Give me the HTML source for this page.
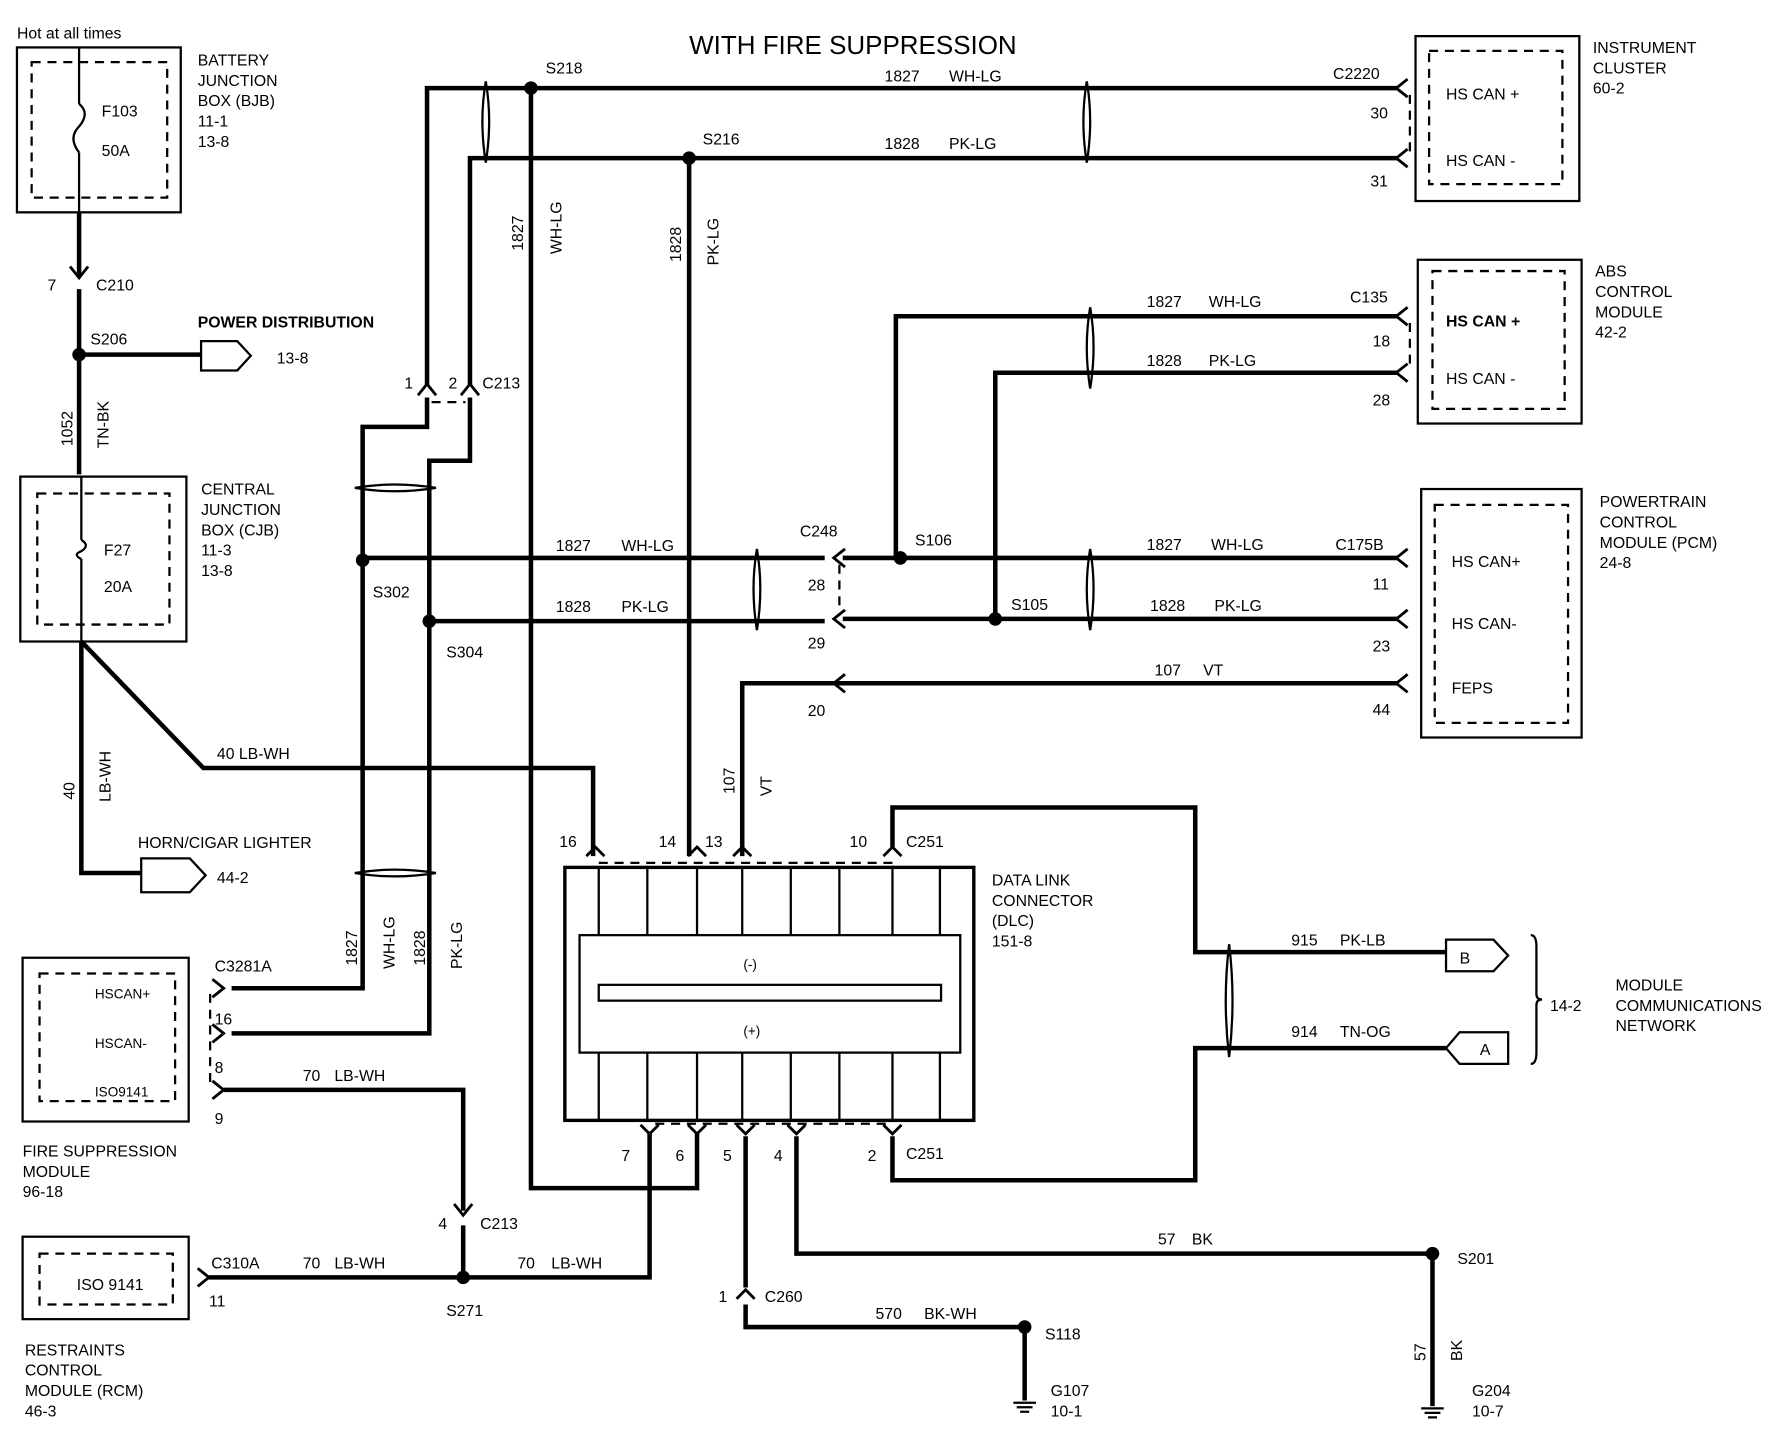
<!DOCTYPE html>
<html><head><meta charset="utf-8"><style>
html,body{margin:0;padding:0;background:#fff}
svg{display:block}
text{font-family:"Liberation Sans Narrow","Liberation Sans",sans-serif;font-size:14px;fill:#000}
.w{stroke:#000;stroke-width:4;fill:none}
.t{stroke:#000;stroke-width:2;fill:none}
.d{stroke:#000;stroke-width:2;fill:none;stroke-dasharray:8 6}
.a{stroke:#000;stroke-width:2.5;fill:none}
</style></head><body>
<svg width="1768" height="1440" viewBox="0 0 1565 1275" preserveAspectRatio="none" xmlns="http://www.w3.org/2000/svg">
<text x="610" y="48" style="font-size:23px">WITH FIRE SUPPRESSION</text>
<text x="15" y="34">Hot at all times</text>

<!-- BJB -->
<rect x="15" y="42" width="145" height="146" class="t"/>
<rect x="28" y="55" width="120" height="120" class="d"/>
<path class="t" d="M70 42V92 M70 135V188"/>
<path class="t" d="M70 92 q10 8 0 20 q-10 10 0 23"/>
<text x="90" y="103">F103</text><text x="90" y="138">50A</text>
<text x="175" y="58">BATTERY</text><text x="175" y="76">JUNCTION</text><text x="175" y="94">BOX (BJB)</text><text x="175" y="112">11-1</text><text x="175" y="130">13-8</text>
<path class="w" d="M70 188V244 M70 256V420"/>
<path class="a" d="M62 236L70 246L78 236"/>
<text x="42" y="257">7</text><text x="85" y="257">C210</text>
<circle cx="70" cy="314" r="6"/>
<path class="w" d="M70 314H178"/>
<path class="t" d="M178 302H210L222 315L210 328H178Z"/>
<text x="245" y="322">13-8</text>
<text x="175" y="290" style="font-weight:bold">POWER DISTRIBUTION</text>
<text x="80" y="305">S206</text>
<text transform="translate(64,395) rotate(-90)">1052</text>
<text transform="translate(96,397) rotate(-90)">TN-BK</text>

<!-- CJB -->
<rect x="18" y="422" width="147" height="146" class="t"/>
<rect x="33" y="437" width="117" height="116" class="d"/>
<path class="t" d="M72 422V478 M72 495V568"/>
<path class="t" d="M72 478 q8 5 0 10 q-8 3 0 7"/>
<text x="92" y="492">F27</text><text x="92" y="524">20A</text>
<text x="178" y="438">CENTRAL</text><text x="178" y="456">JUNCTION</text><text x="178" y="474">BOX (CJB)</text><text x="178" y="492">11-3</text><text x="178" y="510">13-8</text>
<path class="w" d="M72 568V773H125 M72 568L180 680H525V758"/>
<text x="192" y="672">40  LB-WH</text>
<text transform="translate(66,708) rotate(-90)">40</text>
<text transform="translate(98,710) rotate(-90)">LB-WH</text>
<path class="t" d="M125 760H168L182 775L168 790H125Z"/>
<text x="122" y="751">HORN/CIGAR LIGHTER</text><text x="192" y="782">44-2</text>

<!-- top buses -->
<path class="w" d="M378 342V78H1238 M416 342V140H1238"/>
<circle cx="470" cy="78" r="6"/><circle cx="610" cy="140" r="6"/>
<text x="483" y="65">S218</text><text x="622" y="128">S216</text>
<path class="w" d="M470 78V1052H617V1002 M610 140V758"/>
<path class="t" d="M430 72 q6 35 0 72 M430 72 q-6 35 0 72"/>
<path class="t" d="M962 72 q6 35 0 72 M962 72 q-6 35 0 72"/>
<text transform="translate(463,222) rotate(-90)">1827</text>
<text transform="translate(497,225) rotate(-90)">WH-LG</text>
<text transform="translate(603,232) rotate(-90)">1828</text>
<text transform="translate(636,235) rotate(-90)">PK-LG</text>
<text x="783" y="72">1827</text><text x="840" y="72">WH-LG</text>
<text x="783" y="132">1828</text><text x="840" y="132">PK-LG</text>
<path class="a" d="M1246 70L1236 78L1246 86 M1246 132L1236 140L1246 148"/>
<path class="d" d="M1248 84V134"/>
<text x="1180" y="70">C2220</text><text x="1213" y="105">30</text><text x="1213" y="165">31</text>
<rect x="1253" y="32" width="145" height="146" class="t"/>
<rect x="1265" y="45" width="118" height="118" class="d"/>
<text x="1280" y="88">HS CAN +</text><text x="1280" y="147">HS CAN -</text>
<text x="1410" y="47">INSTRUMENT</text><text x="1410" y="65">CLUSTER</text><text x="1410" y="83">60-2</text>

<!-- ABS -->
<path class="w" d="M793 494V280H1238 M881 548V330H1238"/>
<path class="t" d="M965 272 q6 35 0 72 M965 272 q-6 35 0 72"/>
<text x="1015" y="272">1827</text><text x="1070" y="272">WH-LG</text>
<text x="1015" y="324">1828</text><text x="1070" y="324">PK-LG</text>
<path class="a" d="M1246 272L1236 280L1246 288 M1246 322L1236 330L1246 338"/>
<path class="d" d="M1248 286V324"/>
<text x="1195" y="268">C135</text><text x="1215" y="307">18</text><text x="1215" y="359">28</text>
<rect x="1255" y="230" width="145" height="145" class="t"/>
<rect x="1268" y="240" width="117" height="122" class="d"/>
<text x="1280" y="289" style="font-weight:bold">HS CAN +</text><text x="1280" y="340">HS CAN -</text>
<text x="1412" y="245">ABS</text><text x="1412" y="263">CONTROL</text><text x="1412" y="281">MODULE</text><text x="1412" y="299">42-2</text>

<!-- PCM -->
<path class="w" d="M321 494H730 M746 494H1238 M380 550H730 M746 548H1238 M657 758V605H1238"/>
<circle cx="797" cy="494" r="6"/><circle cx="881" cy="548" r="6"/>
<circle cx="321" cy="496" r="6"/><circle cx="380" cy="550" r="6"/>
<path class="a" d="M748 486L738 494L748 502 M748 540L738 548L748 556 M748 597L738 605L748 613"/>
<path class="d" d="M743 500V542"/>
<path class="t" d="M670 486 q6 35 0 72 M670 486 q-6 35 0 72"/>
<path class="t" d="M965 486 q6 35 0 72 M965 486 q-6 35 0 72"/>
<text x="492" y="488">1827</text><text x="550" y="488">WH-LG</text>
<text x="492" y="542">1828</text><text x="550" y="542">PK-LG</text>
<text x="708" y="475">C248</text><text x="715" y="523">28</text><text x="715" y="574">29</text>
<text x="810" y="483">S106</text><text x="895" y="540">S105</text>
<text x="1015" y="487">1827</text><text x="1072" y="487">WH-LG</text>
<text x="1018" y="541">1828</text><text x="1075" y="541">PK-LG</text>
<text x="1182" y="487">C175B</text><text x="1215" y="522">11</text><text x="1215" y="577">23</text>
<text x="1022" y="598">107</text><text x="1065" y="598">VT</text>
<text x="715" y="634">20</text><text x="1215" y="633">44</text>
<path class="a" d="M1246 486L1236 494L1246 502 M1246 540L1236 548L1246 556 M1246 597L1236 605L1246 613"/>
<rect x="1258" y="433" width="142" height="220" class="t"/>
<rect x="1270" y="447" width="118" height="193" class="d"/>
<text x="1285" y="502">HS CAN+</text><text x="1285" y="557">HS CAN-</text><text x="1285" y="614">FEPS</text>
<text x="1416" y="449">POWERTRAIN</text><text x="1416" y="467">CONTROL</text><text x="1416" y="485">MODULE (PCM)</text><text x="1416" y="503">24-8</text>
<text transform="translate(650,703) rotate(-90)">107</text>
<text transform="translate(683,705) rotate(-90)">VT</text>

<!-- S302/S304 -->
<path class="w" d="M378 352V378H321V875H205 M416 352V408H380V915H205"/>
<path class="a" d="M370 350L378 340L386 350 M408 350L416 340L424 350"/>
<path class="d" d="M382 356H412"/>
<text x="358" y="344">1</text><text x="397" y="344">2</text><text x="427" y="344">C213</text>
<path class="t" d="M314 432 q35 -6 72 0 M314 432 q35 6 72 0"/>
<path class="t" d="M314 773 q35 -6 72 0 M314 773 q35 6 72 0"/>
<text x="330" y="529">S302</text><text x="395" y="582">S304</text>
<text transform="translate(316,855) rotate(-90)">1827</text>
<text transform="translate(349,858) rotate(-90)">WH-LG</text>
<text transform="translate(376,855) rotate(-90)">1828</text>
<text transform="translate(409,858) rotate(-90)">PK-LG</text>

<!-- Fire suppression -->
<rect x="20" y="848" width="147" height="145" class="t"/>
<rect x="35" y="862" width="120" height="113" class="d"/>
<text x="84" y="884" style="font-size:12px">HSCAN+</text><text x="84" y="928" style="font-size:12px">HSCAN-</text><text x="84" y="971" style="font-size:12px">ISO9141</text>
<path class="a" d="M188 867L198 875L188 883 M188 907L198 915L188 923 M188 957L198 965L188 973"/>
<path class="d" d="M186 880V960"/>
<text x="190" y="860">C3281A</text><text x="190" y="907">16</text><text x="190" y="950">8</text><text x="190" y="995">9</text>
<path class="w" d="M198 965H410V1072 M410 1085V1131"/>
<path class="a" d="M402 1066L410 1076L418 1066"/>
<text x="268" y="957">70</text><text x="296" y="957">LB-WH</text>
<text x="388" y="1088">4</text><text x="425" y="1088">C213</text>
<text x="20" y="1024">FIRE  SUPPRESSION</text><text x="20" y="1042">MODULE</text><text x="20" y="1060">96-18</text>

<!-- RCM -->
<rect x="20" y="1095" width="147" height="73" class="t"/>
<rect x="35" y="1110" width="118" height="45" class="d"/>
<text x="68" y="1142">ISO 9141</text>
<path class="a" d="M175 1123L185 1131L175 1139"/>
<text x="187" y="1123">C310A</text><text x="185" y="1157">11</text>
<path class="w" d="M185 1131H575V1002"/>
<circle cx="410" cy="1131" r="6"/>
<text x="268" y="1123">70</text><text x="296" y="1123">LB-WH</text>
<text x="458" y="1123">70</text><text x="488" y="1123">LB-WH</text>
<text x="395" y="1165">S271</text>
<text x="22" y="1200">RESTRAINTS</text><text x="22" y="1218">CONTROL</text><text x="22" y="1236">MODULE (RCM)</text><text x="22" y="1254">46-3</text>

<!-- DLC -->
<rect x="500" y="768" width="362" height="224" class="t" style="stroke-width:3"/>
<rect x="513" y="828" width="337" height="104" class="t"/>
<rect x="530" y="872" width="303" height="14" class="t"/>
<path class="t" d="M530 768V828M573 768V828M617 768V828M657 768V828M700 768V828M743 768V828M790 768V828M832 768V828 M530 932V992M573 932V992M617 932V992M657 932V992M700 932V992M743 932V992M790 932V992M832 932V992"/>
<text x="658" y="858" style="font-size:12px">(-)</text><text x="658" y="917" style="font-size:12px">(+)</text>
<path class="a" d="M519 758L527 750L535 758 M609 758L617 750L625 758 M649 758L657 750L665 758 M782 758L790 750L798 758"/>
<path class="d" d="M530 764H790"/>
<text x="495" y="750">16</text><text x="583" y="750">14</text><text x="624" y="750">13</text><text x="752" y="750">10</text><text x="802" y="750">C251</text>
<path class="a" d="M567 996L575 1004L583 996 M609 996L617 1004L625 996 M652 996L660 1004L668 996 M697 996L705 1004L713 996 M782 996L790 1004L798 996"/>
<path class="d" d="M580 995H788"/>
<text x="550" y="1028">7</text><text x="598" y="1028">6</text><text x="640" y="1028">5</text><text x="685" y="1028">4</text><text x="768" y="1028">2</text><text x="802" y="1026">C251</text>
<text x="878" y="784">DATA LINK</text><text x="878" y="802">CONNECTOR</text><text x="878" y="820">(DLC)</text><text x="878" y="838">151-8</text>

<!-- network -->
<path class="w" d="M790 750V715H1058V843H1280 M790 1006V1045H1058V928H1280"/>
<path class="t" d="M1088 836 q6 50 0 100 M1088 836 q-6 50 0 100"/>
<text x="1143" y="837">915</text><text x="1186" y="837">PK-LB</text>
<text x="1143" y="918">914</text><text x="1186" y="918">TN-OG</text>
<path class="t" d="M1280 832H1322L1335 846L1322 860H1280Z"/>
<text x="1292" y="853">B</text>
<path class="t" d="M1280 928L1292 914H1335V942H1292Z"/>
<text x="1310" y="934">A</text>
<path class="t" d="M1355 828 q5 0 5 10 V880 q0 5 5 5 q-5 0 -5 5 V932 q0 10 -5 10"/>
<text x="1372" y="895">14-2</text>
<text x="1430" y="877">MODULE</text><text x="1430" y="895">COMMUNICATIONS</text><text x="1430" y="913">NETWORK</text>

<!-- grounds -->
<path class="w" d="M660 1006V1140 M660 1155V1175H907V1240 M705 1006V1110H1268V1245"/>
<path class="a" d="M652 1150L660 1142L668 1150"/>
<text x="636" y="1153">1</text><text x="677" y="1153">C260</text>
<circle cx="907" cy="1175" r="6"/><circle cx="1268" cy="1110" r="6"/>
<text x="775" y="1168">570</text><text x="818" y="1168">BK-WH</text>
<text x="925" y="1186">S118</text>
<text x="1025" y="1102">57</text><text x="1055" y="1102">BK</text>
<text x="1290" y="1119">S201</text>
<text transform="translate(1262,1205) rotate(-90)">57</text>
<text transform="translate(1294,1205) rotate(-90)">BK</text>
<path class="t" d="M897 1242H917M900 1246H914M903 1250H911 M1258 1247H1278M1261 1251H1275M1264 1255H1272"/>
<text x="930" y="1236">G107</text><text x="930" y="1254">10-1</text>
<text x="1303" y="1236">G204</text><text x="1303" y="1254">10-7</text>
</svg>
</body></html>
